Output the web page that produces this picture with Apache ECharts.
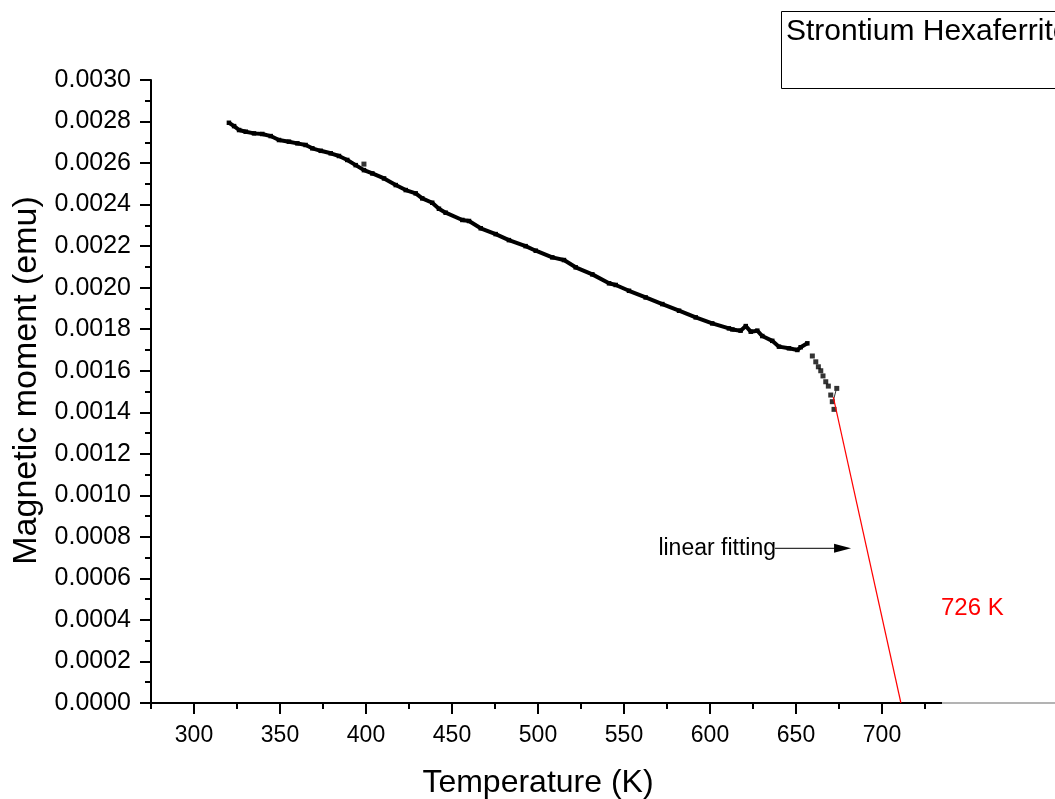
<!DOCTYPE html>
<html><head><meta charset="utf-8">
<script src="https://cdn.jsdelivr.net/npm/echarts@6/dist/echarts.min.js"></script>
<style>html,body{margin:0;padding:0;background:#fff;overflow:hidden}#c{width:1055px;height:799px}</style>
</head><body><div id="c"></div>
<script>
// ---- data ----
const tempMain = [320.3, 323.3, 326.2, 330.1, 334.9, 339.7, 344.6, 349.4, 355.2, 360.1, 364.9, 368.8, 373.7, 379.5, 384.3, 389.1, 394.0, 398.8, 403.7, 410.5, 417.3, 423.1, 428.9, 432.7, 438.5, 442.4, 446.3, 456.0, 459.9, 466.7, 475.4, 483.1, 492.8, 498.7, 508.3, 515.1, 521.9, 531.6, 541.3, 545.2, 552.9, 562.6, 572.3, 582.0, 591.7, 601.3, 611.0, 613.0, 617.8, 620.8, 623.7, 627.5, 630.4, 636.2, 640.1, 645.9, 650.8, 652.7, 656.6];
const momentMain = [0.002794, 0.002778, 0.002759, 0.002751, 0.002743, 0.002740, 0.002730, 0.002711, 0.002703, 0.002695, 0.002687, 0.002671, 0.002659, 0.002647, 0.002634, 0.002615, 0.002590, 0.002566, 0.002550, 0.002526, 0.002494, 0.002470, 0.002454, 0.002430, 0.002409, 0.002380, 0.002361, 0.002326, 0.002321, 0.002286, 0.002258, 0.002229, 0.002200, 0.002178, 0.002146, 0.002133, 0.002098, 0.002064, 0.002021, 0.002013, 0.001985, 0.001953, 0.001921, 0.001889, 0.001857, 0.001828, 0.001804, 0.001799, 0.001793, 0.001815, 0.001788, 0.001793, 0.001767, 0.001744, 0.001716, 0.001708, 0.001700, 0.001713, 0.001732];
const tempTail = [659.5, 661.5, 663.0, 664.4, 665.7, 667.3, 668.8, 670.2, 671.1, 672.1];
const momentTail = [0.001671, 0.001643, 0.001619, 0.001600, 0.001575, 0.001547, 0.001526, 0.001483, 0.001451, 0.001414];
const tempOutlier = [398.8, 673.7];
const momentOutlier = [0.002595, 0.001515];
const fitTemp = [671.7, 711.0];
const fitMoment = [0.001473, 0.0];
const stubTemp = [673.8, 671.8];
const stubMoment = [0.001522, 0.001459];
const arrowTemp = [637.8, 682.0];
const arrowMoment = [0.000745, 0.000745];
const xMajorTicks = [300, 350, 400, 450, 500, 550, 600, 650, 700];
const xMinorTicks = [275, 325, 375, 425, 475, 525, 575, 625, 675, 725];
const xRange = [275, 725];
const yRange = [0, 0.003];
const yStep = 0.0002;
const xTitle = 'Temperature (K)';
const yTitle = 'Magnetic moment (emu)';
const legendLabel = 'Strontium Hexaferrite';
const fitLabel = 'linear fitting';
const curieLabel = '726 K';

const zip = (a, b) => a.map((v, i) => [v, b[i]]);
const FONT = "'Liberation Sans', Arial, sans-serif";

const chart = echarts.init(document.getElementById('c'), null, {renderer: 'canvas'});
chart.setOption({
  animation: false,
  backgroundColor: '#fff',
  grid: {left: 151, right: 130, top: 80, bottom: 96, containLabel: false, outerBoundsMode: 'none'},
  xAxis: [{
    type: 'value', min: xRange[0], max: xRange[1],
    axisLine: {show: true, onZero: false, lineStyle: {color: '#000', width: 2}},
    axisTick: {show: true, customValues: xMajorTicks, length: 11, lineStyle: {color: '#000', width: 2}},
    axisLabel: {show: true, customValues: xMajorTicks, margin: 21, color: '#000', fontSize: 23, fontFamily: FONT},
    splitLine: {show: false},
    name: xTitle, nameLocation: 'middle', nameGap: 64,
    nameTextStyle: {color: '#000', fontSize: 32, fontFamily: FONT}
  }, {
    type: 'value', min: xRange[0], max: xRange[1], position: 'bottom',
    axisLine: {show: false},
    axisTick: {show: true, customValues: xMinorTicks, length: 6, lineStyle: {color: '#000', width: 2}},
    axisLabel: {show: false},
    splitLine: {show: false}
  }],
  yAxis: {
    type: 'value', min: yRange[0], max: yRange[1], interval: yStep,
    axisLine: {show: true, onZero: false, lineStyle: {color: '#000', width: 2}},
    axisTick: {show: true, length: 11, lineStyle: {color: '#000', width: 2}},
    minorTick: {show: true, splitNumber: 2, length: 6, lineStyle: {color: '#000', width: 2}},
    axisLabel: {margin: 20, color: '#000', fontSize: 25, fontFamily: FONT, formatter: v => v.toFixed(4)},
    splitLine: {show: false},
    name: yTitle, nameLocation: 'middle', nameGap: 106,
    nameTextStyle: {color: '#000', fontSize: 34, fontFamily: FONT, padding: [0, 0, 0, 22]}
  },
  series: [
    {type: 'line', xAxisIndex: 0, data: zip(tempMain, momentMain), symbol: 'rect', symbolSize: 4.5,
     showSymbol: true, itemStyle: {color: '#000'}, lineStyle: {color: '#000', width: 4}, silent: true},
    {type: 'scatter', xAxisIndex: 0, data: zip(tempTail, momentTail), symbol: 'rect', symbolSize: 5,
     itemStyle: {color: '#000'}, silent: true},
    {type: 'scatter', xAxisIndex: 0, data: zip(tempOutlier, momentOutlier), symbol: 'rect', symbolSize: 5,
     itemStyle: {color: '#000'}, silent: true},
    {type: 'line', xAxisIndex: 0, data: zip(stubTemp, stubMoment), showSymbol: false,
     lineStyle: {color: '#333', width: 1}, silent: true},
    {type: 'line', xAxisIndex: 0, data: zip(fitTemp, fitMoment), showSymbol: false,
     lineStyle: {color: '#ff0000', width: 1.2}, silent: true}
  ],
  graphic: [
    {type: 'line', shape: {x1: 925, y1: 703, x2: 942, y2: 703}, style: {stroke: '#000', lineWidth: 2}, silent: true},
    {type: 'line', shape: {x1: 942, y1: 703, x2: 1055, y2: 703}, style: {stroke: '#9a9a9a', lineWidth: 1.5}, silent: true},
    {type: 'rect', shape: {x: 781.5, y: 11.5, width: 320, height: 77}, style: {fill: '#fff', stroke: '#000', lineWidth: 1}, silent: true},
    {type: 'text', x: 786, y: 32, style: {text: legendLabel, font: '30px ' + FONT, fill: '#000', verticalAlign: 'middle'}, silent: true},
    {type: 'text', x: 776, y: 549, style: {text: fitLabel, font: '23px ' + FONT, fill: '#000', align: 'right', verticalAlign: 'middle'}, silent: true},
    {type: 'text', x: 941, y: 608, style: {text: curieLabel, font: '24px ' + FONT, fill: '#ff0000', verticalAlign: 'middle'}, silent: true}
  ]
});

// arrow for the "linear fitting" annotation, positioned through the axes' scales
const a0 = chart.convertToPixel({xAxisIndex: 0, yAxisIndex: 0}, [arrowTemp[0], arrowMoment[0]]);
const a1 = chart.convertToPixel({xAxisIndex: 0, yAxisIndex: 0}, [arrowTemp[1], arrowMoment[1]]);
const headLen = 17, headHalf = 4.5;
chart.setOption({
  graphic: [
    {id: 'arrowLine', type: 'line', shape: {x1: a0[0], y1: a0[1], x2: a1[0] - headLen + 1, y2: a1[1]},
     style: {stroke: '#333', lineWidth: 1.2}, silent: true},
    {id: 'arrowHead', type: 'polygon',
     shape: {points: [[a1[0], a1[1]], [a1[0] - headLen, a1[1] - headHalf], [a1[0] - headLen, a1[1] + headHalf]]},
     style: {fill: '#000'}, silent: true}
  ]
});
</script></body></html>
